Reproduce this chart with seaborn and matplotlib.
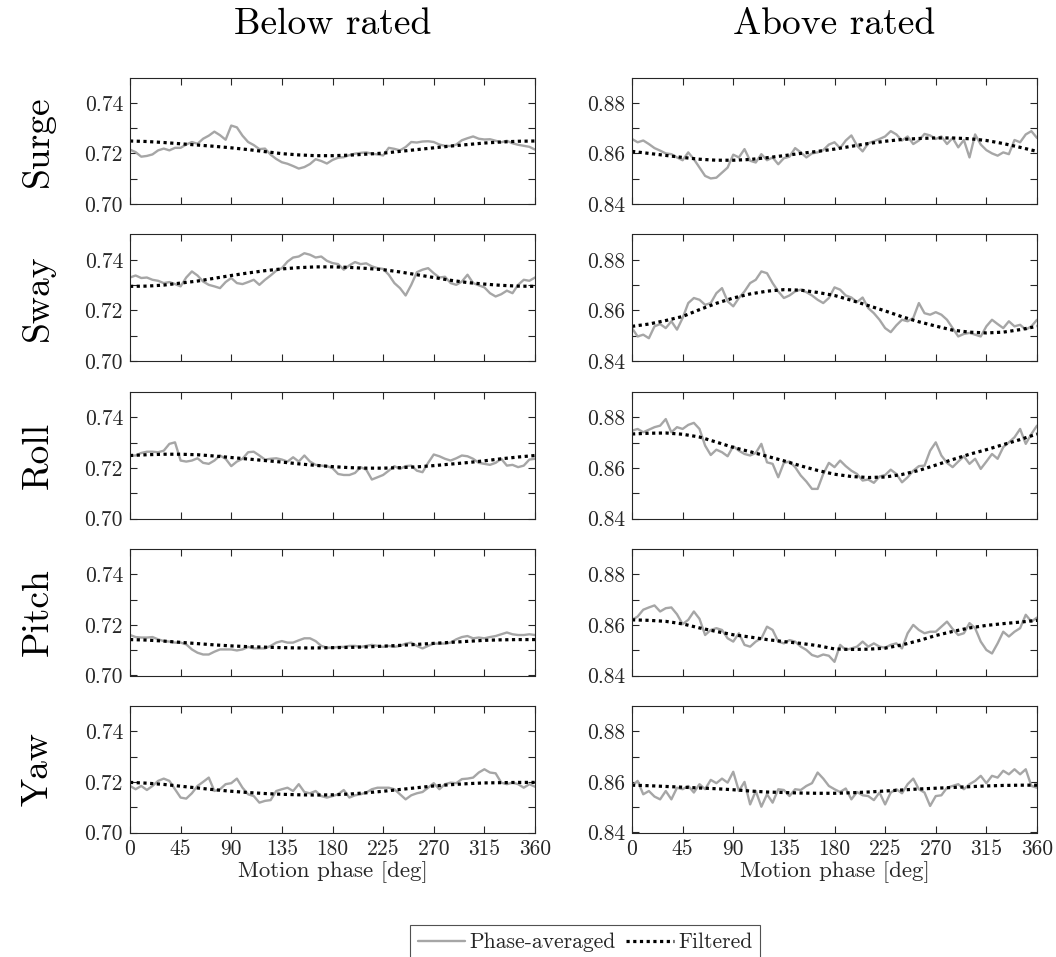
import numpy as np
import pandas as pd
import matplotlib
matplotlib.use("Agg")
import matplotlib.pyplot as plt
from matplotlib.lines import Line2D
import seaborn as sns

# Phase grids (deg)
phase_raw = np.arange(0, 361, 5)
phase_filt = np.arange(0, 361, 15)

dofs = ["Surge", "Sway", "Roll", "Pitch", "Yaw"]
columns = ["Below rated", "Above rated"]

# ---- Below rated: phase-averaged signal ----
surge_below = [0.7215, 0.7205, 0.7187, 0.7190, 0.7196, 0.7212, 0.7219, 0.7212, 0.7222, 0.7222,
               0.7235, 0.7245, 0.7238, 0.7258, 0.7270, 0.7286, 0.7272, 0.7254, 0.7310, 0.7303,
               0.7270, 0.7245, 0.7233, 0.7217, 0.7219, 0.7195, 0.7178, 0.7165, 0.7159, 0.7150,
               0.7140, 0.7146, 0.7158, 0.7177, 0.7170, 0.7160, 0.7174, 0.7183, 0.7185, 0.7193,
               0.7199, 0.7202, 0.7204, 0.7199, 0.7196, 0.7192, 0.7222, 0.7218, 0.7212, 0.7225,
               0.7245, 0.7243, 0.7247, 0.7248, 0.7245, 0.7235, 0.7230, 0.7229, 0.7235, 0.7252,
               0.7260, 0.7267, 0.7258, 0.7255, 0.7256, 0.7250, 0.7244, 0.7250, 0.7240, 0.7234,
               0.7230, 0.7226, 0.7215]
sway_below = [0.7330, 0.7338, 0.7328, 0.7330, 0.7321, 0.7317, 0.7308, 0.7312, 0.7304, 0.7295,
              0.7330, 0.7354, 0.7338, 0.7314, 0.7301, 0.7295, 0.7288, 0.7312, 0.7328, 0.7308,
              0.7304, 0.7312, 0.7321, 0.7301, 0.7321, 0.7338, 0.7357, 0.7367, 0.7393, 0.7409,
              0.7413, 0.7426, 0.7420, 0.7409, 0.7413, 0.7396, 0.7387, 0.7383, 0.7361, 0.7378,
              0.7391, 0.7383, 0.7386, 0.7374, 0.7367, 0.7364, 0.7341, 0.7308, 0.7288, 0.7259,
              0.7301, 0.7351, 0.7361, 0.7367, 0.7347, 0.7330, 0.7333, 0.7308, 0.7301, 0.7314,
              0.7341, 0.7308, 0.7299, 0.7291, 0.7268, 0.7255, 0.7264, 0.7278, 0.7268, 0.7301,
              0.7321, 0.7317, 0.7330]
roll_below = [0.7249, 0.7249, 0.7259, 0.7264, 0.7264, 0.7262, 0.7268, 0.7295, 0.7301, 0.7229,
              0.7225, 0.7229, 0.7238, 0.7220, 0.7216, 0.7229, 0.7249, 0.7236, 0.7207, 0.7225,
              0.7236, 0.7262, 0.7264, 0.7249, 0.7233, 0.7236, 0.7238, 0.7233, 0.7225, 0.7242,
              0.7225, 0.7249, 0.7225, 0.7212, 0.7209, 0.7207, 0.7199, 0.7176, 0.7172, 0.7172,
              0.7180, 0.7203, 0.7193, 0.7154, 0.7163, 0.7172, 0.7189, 0.7207, 0.7196, 0.7207,
              0.7209, 0.7189, 0.7183, 0.7220, 0.7253, 0.7246, 0.7236, 0.7229, 0.7238, 0.7249,
              0.7246, 0.7236, 0.7220, 0.7216, 0.7212, 0.7220, 0.7236, 0.7209, 0.7212, 0.7203,
              0.7209, 0.7233, 0.7236]
pitch_below = [0.7160, 0.7152, 0.7150, 0.7150, 0.7152, 0.7143, 0.7136, 0.7134, 0.7130, 0.7130,
               0.7123, 0.7103, 0.7090, 0.7083, 0.7083, 0.7094, 0.7103, 0.7103, 0.7103, 0.7099,
               0.7103, 0.7113, 0.7107, 0.7107, 0.7107, 0.7117, 0.7130, 0.7136, 0.7130, 0.7130,
               0.7139, 0.7147, 0.7147, 0.7136, 0.7117, 0.7110, 0.7110, 0.7113, 0.7113, 0.7117,
               0.7117, 0.7113, 0.7117, 0.7121, 0.7117, 0.7113, 0.7117, 0.7113, 0.7117, 0.7126,
               0.7130, 0.7117, 0.7107, 0.7117, 0.7126, 0.7126, 0.7126, 0.7130, 0.7143, 0.7152,
               0.7156, 0.7147, 0.7150, 0.7147, 0.7152, 0.7156, 0.7163, 0.7170, 0.7163, 0.7160,
               0.7160, 0.7163, 0.7160]
yaw_below = [0.7184, 0.7171, 0.7184, 0.7168, 0.7184, 0.7204, 0.7213, 0.7204, 0.7171, 0.7138,
             0.7134, 0.7155, 0.7184, 0.7200, 0.7217, 0.7164, 0.7171, 0.7191, 0.7195, 0.7213,
             0.7177, 0.7151, 0.7144, 0.7118, 0.7125, 0.7128, 0.7164, 0.7171, 0.7177, 0.7164,
             0.7191, 0.7160, 0.7155, 0.7164, 0.7144, 0.7138, 0.7144, 0.7151, 0.7168, 0.7138,
             0.7147, 0.7151, 0.7158, 0.7171, 0.7177, 0.7177, 0.7177, 0.7171, 0.7151, 0.7131,
             0.7147, 0.7155, 0.7160, 0.7177, 0.7195, 0.7171, 0.7191, 0.7197, 0.7195, 0.7211,
             0.7213, 0.7217, 0.7237, 0.7250, 0.7237, 0.7234, 0.7197, 0.7191, 0.7197, 0.7191,
             0.7177, 0.7191, 0.7181]

# ---- Above rated: phase-averaged signal ----
surge_above = [0.8657, 0.8644, 0.8651, 0.8637, 0.8621, 0.8611, 0.8600, 0.8597, 0.8584, 0.8573,
               0.8604, 0.8577, 0.8544, 0.8511, 0.8501, 0.8504, 0.8524, 0.8544, 0.8595, 0.8584,
               0.8617, 0.8571, 0.8564, 0.8597, 0.8573, 0.8584, 0.8557, 0.8581, 0.8587, 0.8621,
               0.8604, 0.8584, 0.8600, 0.8604, 0.8613, 0.8635, 0.8644, 0.8621, 0.8651, 0.8671,
               0.8631, 0.8608, 0.8640, 0.8648, 0.8657, 0.8667, 0.8688, 0.8675, 0.8651, 0.8667,
               0.8637, 0.8651, 0.8677, 0.8671, 0.8657, 0.8667, 0.8637, 0.8661, 0.8624, 0.8653,
               0.8584, 0.8675, 0.8635, 0.8613, 0.8600, 0.8591, 0.8604, 0.8597, 0.8653, 0.8644,
               0.8675, 0.8688, 0.8661]
sway_above = [0.8530, 0.8497, 0.8504, 0.8490, 0.8537, 0.8546, 0.8530, 0.8557, 0.8524, 0.8570,
              0.8629, 0.8649, 0.8642, 0.8622, 0.8629, 0.8668, 0.8688, 0.8636, 0.8616, 0.8649,
              0.8675, 0.8708, 0.8721, 0.8754, 0.8747, 0.8708, 0.8675, 0.8649, 0.8659, 0.8675,
              0.8682, 0.8672, 0.8659, 0.8642, 0.8629, 0.8649, 0.8691, 0.8682, 0.8659, 0.8651,
              0.8633, 0.8651, 0.8609, 0.8589, 0.8563, 0.8530, 0.8514, 0.8541, 0.8563, 0.8557,
              0.8570, 0.8629, 0.8589, 0.8583, 0.8593, 0.8583, 0.8563, 0.8530, 0.8497, 0.8507,
              0.8511, 0.8504, 0.8497, 0.8537, 0.8563, 0.8546, 0.8530, 0.8557, 0.8537, 0.8543,
              0.8524, 0.8537, 0.8563]
roll_above = [0.8747, 0.8754, 0.8741, 0.8751, 0.8761, 0.8767, 0.8793, 0.8741, 0.8761, 0.8754,
              0.8770, 0.8778, 0.8754, 0.8688, 0.8651, 0.8672, 0.8662, 0.8646, 0.8686, 0.8668,
              0.8655, 0.8649, 0.8659, 0.8695, 0.8622, 0.8616, 0.8563, 0.8620, 0.8625, 0.8603,
              0.8570, 0.8546, 0.8517, 0.8517, 0.8576, 0.8620, 0.8603, 0.8629, 0.8607, 0.8589,
              0.8576, 0.8550, 0.8554, 0.8541, 0.8566, 0.8572, 0.8593, 0.8576, 0.8543, 0.8563,
              0.8589, 0.8607, 0.8609, 0.8668, 0.8701, 0.8649, 0.8620, 0.8603, 0.8625, 0.8646,
              0.8616, 0.8636, 0.8596, 0.8625, 0.8655, 0.8636, 0.8682, 0.8701, 0.8721, 0.8754,
              0.8695, 0.8734, 0.8767]
pitch_above = [0.8620, 0.8633, 0.8660, 0.8669, 0.8677, 0.8653, 0.8666, 0.8669, 0.8642, 0.8603,
               0.8620, 0.8653, 0.8624, 0.8560, 0.8580, 0.8587, 0.8580, 0.8547, 0.8534, 0.8567,
               0.8521, 0.8514, 0.8534, 0.8547, 0.8593, 0.8580, 0.8534, 0.8527, 0.8540, 0.8534,
               0.8514, 0.8501, 0.8481, 0.8474, 0.8483, 0.8478, 0.8454, 0.8521, 0.8501, 0.8507,
               0.8514, 0.8534, 0.8514, 0.8527, 0.8514, 0.8510, 0.8521, 0.8527, 0.8507, 0.8567,
               0.8600, 0.8580, 0.8567, 0.8573, 0.8573, 0.8593, 0.8613, 0.8584, 0.8560, 0.8567,
               0.8607, 0.8587, 0.8534, 0.8501, 0.8487, 0.8527, 0.8573, 0.8554, 0.8573, 0.8587,
               0.8640, 0.8613, 0.8629]
yaw_above = [0.8584, 0.8604, 0.8551, 0.8564, 0.8542, 0.8531, 0.8564, 0.8531, 0.8577, 0.8571,
             0.8584, 0.8558, 0.8591, 0.8571, 0.8608, 0.8595, 0.8613, 0.8597, 0.8640, 0.8564,
             0.8600, 0.8511, 0.8564, 0.8502, 0.8551, 0.8518, 0.8571, 0.8568, 0.8544, 0.8571,
             0.8568, 0.8584, 0.8595, 0.8637, 0.8613, 0.8584, 0.8571, 0.8560, 0.8574, 0.8531,
             0.8560, 0.8547, 0.8544, 0.8528, 0.8558, 0.8511, 0.8558, 0.8571, 0.8555, 0.8591,
             0.8613, 0.8571, 0.8558, 0.8505, 0.8544, 0.8547, 0.8577, 0.8584, 0.8591, 0.8571,
             0.8591, 0.8604, 0.8624, 0.8595, 0.8624, 0.8617, 0.8644, 0.8630, 0.8650, 0.8630,
             0.8650, 0.8584, 0.8577]

# ---- Filtered (low-pass) curves ----
surge_below_f = [0.7249, 0.7247, 0.7243, 0.7238, 0.7233, 0.7228, 0.7222, 0.7215, 0.7207, 0.7199,
                 0.7194, 0.7191, 0.7191, 0.7193, 0.7197, 0.7201, 0.7208, 0.7215, 0.7222, 0.7229,
                 0.7235, 0.7241, 0.7245, 0.7248, 0.7249]
sway_below_f = [0.7295, 0.7296, 0.7300, 0.7308, 0.7316, 0.7327, 0.7338, 0.7348, 0.7357, 0.7364,
                0.7369, 0.7372, 0.7372, 0.7370, 0.7366, 0.7361, 0.7352, 0.7341, 0.7330, 0.7319,
                0.7310, 0.7304, 0.7299, 0.7296, 0.7295]
roll_below_f = [0.7249, 0.7252, 0.7254, 0.7254, 0.7252, 0.7247, 0.7241, 0.7235, 0.7229, 0.7223,
                0.7216, 0.7210, 0.7205, 0.7201, 0.7199, 0.7199, 0.7201, 0.7204, 0.7209, 0.7215,
                0.7221, 0.7228, 0.7236, 0.7243, 0.7249]
pitch_below_f = [0.7142, 0.7140, 0.7136, 0.7131, 0.7126, 0.7121, 0.7117, 0.7114, 0.7112, 0.7110,
                 0.7109, 0.7109, 0.7110, 0.7111, 0.7113, 0.7116, 0.7119, 0.7123, 0.7127, 0.7131,
                 0.7135, 0.7139, 0.7141, 0.7142, 0.7142]
yaw_below_f = [0.7198, 0.7195, 0.7190, 0.7183, 0.7176, 0.7169, 0.7163, 0.7158, 0.7154, 0.7151,
               0.7149, 0.7148, 0.7149, 0.7152, 0.7157, 0.7163, 0.7170, 0.7177, 0.7184, 0.7189,
               0.7193, 0.7196, 0.7197, 0.7198, 0.7198]
surge_above_f = [0.8608, 0.8600, 0.8592, 0.8584, 0.8577, 0.8573, 0.8573, 0.8576, 0.8583, 0.8591,
                 0.8600, 0.8608, 0.8617, 0.8628, 0.8639, 0.8648, 0.8655, 0.8659, 0.8661, 0.8661,
                 0.8658, 0.8651, 0.8639, 0.8624, 0.8608]
sway_above_f = [0.8537, 0.8546, 0.8560, 0.8576, 0.8603, 0.8628, 0.8649, 0.8665, 0.8676, 0.8682,
                0.8680, 0.8671, 0.8659, 0.8640, 0.8619, 0.8598, 0.8575, 0.8555, 0.8538, 0.8522,
                0.8514, 0.8511, 0.8514, 0.8524, 0.8537]
roll_above_f = [0.8734, 0.8737, 0.8738, 0.8733, 0.8722, 0.8702, 0.8681, 0.8664, 0.8646, 0.8628,
                0.8608, 0.8590, 0.8575, 0.8566, 0.8562, 0.8564, 0.8574, 0.8590, 0.8611, 0.8633,
                0.8654, 0.8672, 0.8692, 0.8712, 0.8734]
pitch_above_f = [0.8620, 0.8618, 0.8614, 0.8604, 0.8588, 0.8574, 0.8561, 0.8552, 0.8542, 0.8534,
                 0.8527, 0.8518, 0.8505, 0.8503, 0.8504, 0.8508, 0.8521, 0.8538, 0.8558, 0.8574,
                 0.8588, 0.8598, 0.8605, 0.8611, 0.8618]
yaw_above_f = [0.8587, 0.8585, 0.8582, 0.8579, 0.8576, 0.8573, 0.8569, 0.8564, 0.8560, 0.8558,
               0.8556, 0.8555, 0.8555, 0.8557, 0.8560, 0.8564, 0.8568, 0.8572, 0.8575, 0.8578,
               0.8581, 0.8584, 0.8586, 0.8587, 0.8587]

raw = {
    "Below rated": [surge_below, sway_below, roll_below, pitch_below, yaw_below],
    "Above rated": [surge_above, sway_above, roll_above, pitch_above, yaw_above],
}
filt = {
    "Below rated": [surge_below_f, sway_below_f, roll_below_f, pitch_below_f, yaw_below_f],
    "Above rated": [surge_above_f, sway_above_f, roll_above_f, pitch_above_f, yaw_above_f],
}

ylims = {"Below rated": (0.70, 0.75), "Above rated": (0.84, 0.89)}
yticks_major = {"Below rated": [0.70, 0.72, 0.74], "Above rated": [0.84, 0.86, 0.88]}
yticks_minor = {"Below rated": [0.71, 0.73], "Above rated": [0.85, 0.87]}
xticks = [0, 45, 90, 135, 180, 225, 270, 315, 360]

sns.set_theme(style="white")
plt.rcParams["font.family"] = ["cmr10", "DejaVu Serif"]
plt.rcParams["axes.formatter.use_mathtext"] = True
plt.rcParams["axes.unicode_minus"] = False

AX_COLOR = "#262626"
RAW_COLOR = "#a6a6a6"

W, H = 1056, 957
fig = plt.figure(figsize=(W / 100, H / 100), dpi=100)

col_left = [130, 632]
ax_w = 405
row_bottom = [204, 361, 518.5, 675.5, 832.5]
ax_h = 126.5

for ci, col in enumerate(columns):
    for ri, dof in enumerate(dofs):
        ax = fig.add_axes([col_left[ci] / W, 1 - row_bottom[ri] / H, ax_w / W, ax_h / H])
        df_raw = pd.DataFrame({"phase": phase_raw, "value": raw[col][ri]})
        df_f = pd.DataFrame({"phase": phase_filt, "value": filt[col][ri]})
        sns.lineplot(data=df_raw, x="phase", y="value", ax=ax, color=RAW_COLOR,
                     linewidth=1.7, legend=False)
        sns.lineplot(data=df_f, x="phase", y="value", ax=ax, color="black",
                     linewidth=2.3, linestyle=(0, (1, 1.1)), legend=False)
        ax.set_xlim(0, 360)
        ax.set_ylim(*ylims[col])
        ax.set_xticks(xticks)
        ax.set_yticks(yticks_major[col])
        ax.set_yticks(yticks_minor[col], minor=True)
        ax.set_yticklabels([f"{v:.2f}" for v in yticks_major[col]])
        ax.tick_params(which="both", direction="in", length=5, width=0.8,
                       color=AX_COLOR, top=True, right=True, left=True, bottom=True,
                       labelsize=15.5, labelcolor=AX_COLOR, pad=5)
        for s in ax.spines.values():
            s.set_color(AX_COLOR)
            s.set_linewidth(0.8)
        ax.set_ylabel("")
        if ri == len(dofs) - 1:
            ax.set_xticklabels([str(t) for t in xticks])
            ax.set_xlabel("Motion phase [deg]", fontsize=16.5, color=AX_COLOR, labelpad=2)
        else:
            ax.set_xticklabels([])
            ax.set_xlabel("")
        if ci == 0:
            fig.text(38 / W, 1 - (row_bottom[ri] - ax_h / 2) / H, dof, rotation=90,
                     ha="center", va="center", fontsize=27, color="black")
        if ri == 0:
            fig.text((col_left[ci] + ax_w / 2) / W, 1 - 24 / H, col,
                     ha="center", va="center", fontsize=27, color="black")

handles = [
    Line2D([], [], color=RAW_COLOR, linewidth=1.7),
    Line2D([], [], color="black", linewidth=2.3, linestyle=(0, (1, 1.1))),
]
leg = fig.legend(handles, ["Phase-averaged", "Filtered"], ncol=2,
                 loc="upper center", bbox_to_anchor=(585 / W, 1 - 925 / H),
                 fontsize=15.5, frameon=True, fancybox=False, handlelength=2.2,
                 handletextpad=0.2, columnspacing=0.5, borderpad=0.35,
                 borderaxespad=0)
leg.get_frame().set_edgecolor(AX_COLOR)
leg.get_frame().set_linewidth(0.8)

fig.savefig("out.png", dpi=100)
